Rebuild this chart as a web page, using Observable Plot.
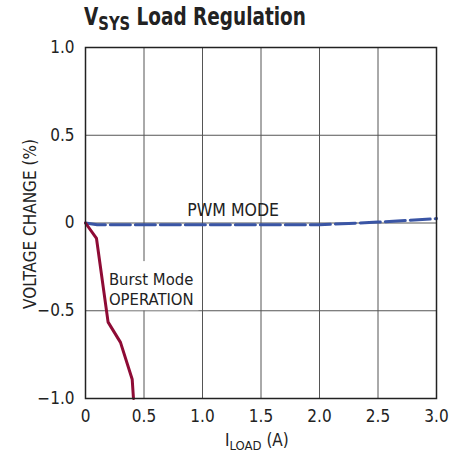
<!DOCTYPE html>
<html><head><meta charset="utf-8">
<script src="https://cdn.jsdelivr.net/npm/d3@7"></script>
<script src="https://cdn.jsdelivr.net/npm/@observablehq/plot@0.6"></script>
<style>
body{margin:0;background:#fff;}
svg{display:block;}
</style></head><body><div id="chart"></div>
<script>
const FONT = "'Liberation Sans Narrow','DejaVu Sans Condensed','Roboto Condensed',sans-serif";
const xTicks = [0, 0.5, 1, 1.5, 2, 2.5, 3];
const xTickLabels = ["0", "0.5", "1.0", "1.5", "2.0", "2.5", "3.0"];
const yTicks = [-1, -0.5, 0, 0.5, 1];
const yTickLabels = ["\u22121.0", "\u22120.5", "0", "0.5", "1.0"];
const burstX = [0, 0.094, 0.193, 0.299, 0.399, 0.41];
const burstY = [0, -0.088, -0.565, -0.68, -0.89, -1.0];
const pwmX = [0, 0.1, 1.0, 2.0, 2.5, 3.0];
const pwmY = [0, -0.01, -0.01, -0.01, 0.005, 0.025];
const burst = burstX.map((x, i) => ({x, y: burstY[i]}));
const pwm = pwmX.map((x, i) => ({x, y: pwmY[i]}));
const pwmLabel = [{x: 0.87, y: 0.074, text: "PWM MODE"}];
const burstLabel = [{x: 0.2, y: -0.276, text: "Burst Mode\nOPERATION"}];
const labelBox = [{x1: 0.17, x2: 0.97, y1: -0.22, y2: -0.5}];

const plot = Plot.plot({
  width: 466, height: 457,
  marginLeft: 85, marginRight: 30, marginTop: 47, marginBottom: 59,
  style: {fontFamily: FONT, background: "#fff"},
  x: {domain: [0, 3], label: null},
  y: {domain: [-1, 1], label: null},
  marks: [
    Plot.gridX(xTicks, {stroke: "#555", strokeOpacity: 1, strokeWidth: 1}),
    Plot.gridY(yTicks, {stroke: "#555", strokeOpacity: 1, strokeWidth: 1}),
    Plot.rect(labelBox, {x1: "x1", x2: "x2", y1: "y1", y2: "y2", fill: "#fff"}),
    Plot.axisX(xTicks, {tickSize: 0, tickPadding: 11, fontSize: 17, fill: "#222",
      tickFormat: (d, i) => xTickLabels[i], label: null}),
    Plot.axisY(yTicks, {tickSize: 0, tickPadding: 11, fontSize: 17, fill: "#222",
      tickFormat: (d, i) => yTickLabels[i], label: null}),
    Plot.line(pwm, {x: "x", y: "y", stroke: "#3a55a5", strokeWidth: 3, strokeDasharray: "20,5"}),
    Plot.line(burst, {x: "x", y: "y", stroke: "#8e0b35", strokeWidth: 3}),
    Plot.frame({stroke: "#222", strokeWidth: 1.5}),
    Plot.text(pwmLabel, {x: "x", y: "y", text: "text", textAnchor: "start", fontSize: 17.5, fill: "#222"}),
    Plot.text(burstLabel, {x: "x", y: "y", text: "text", textAnchor: "start", lineAnchor: "top",
      lineHeight: 1.18, fontSize: 16.5, fill: "#222"})
  ]
});
document.getElementById("chart").appendChild(plot);
const svg = d3.select(plot);
const title = svg.append("text").attr("transform", "translate(84,25) scale(0.82,1)")
  .attr("text-anchor", "start")
  .attr("font-family", FONT).attr("font-weight", "bold").attr("font-size", 25).attr("fill", "#222");
title.append("tspan").text("V");
title.append("tspan").attr("font-size", 20).attr("dy", 5).text("SYS");
title.append("tspan").attr("dy", -5).text(" Load Regulation");
const xl = svg.append("text").attr("x", 225).attr("y", 446).attr("text-anchor", "start")
  .attr("font-family", FONT).attr("font-size", 17).attr("fill", "#222");
xl.append("tspan").text("I");
xl.append("tspan").attr("font-size", 13).attr("dy", 4).text("LOAD");
xl.append("tspan").attr("dy", -4).text(" (A)");
svg.append("text").attr("transform", "translate(36,224) rotate(-90)").attr("text-anchor", "middle")
  .attr("font-family", FONT).attr("font-size", 17).attr("fill", "#222").text("VOLTAGE CHANGE (%)");
</script></body></html>
